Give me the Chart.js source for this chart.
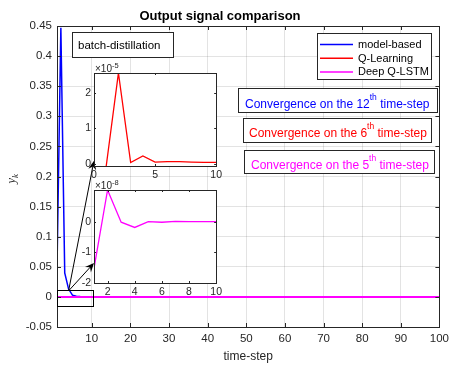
<!DOCTYPE html>
<html>
<head>
<meta charset="utf-8">
<script src="https://cdn.jsdelivr.net/npm/chart.js@4.4.0/dist/chart.umd.min.js"></script>
<style>
  html, body { margin: 0; padding: 0; background: #fff; }
  #wrap { position: relative; width: 454px; height: 365px; }
  canvas { position: absolute; }
  #main { left: 0; top: 0; }
  #inset1 { left: 70px; top: 58px; }
  #inset2 { left: 70px; top: 176px; }
</style>
</head>
<body>
<div id="wrap">
  <canvas id="main" width="454" height="365"></canvas>
  <canvas id="inset1" width="155" height="127"></canvas>
  <canvas id="inset2" width="155" height="125"></canvas>
</div>
<script>
// Données
const steps = [1, 2, 3, 4, 5, 6, 7, 8, 9, 10, 11, 12, 100];
const modelBased = [0.045, 0.447, 0.04, 0.013, 0.003, 0.001, 0.0005, 0.0002, 0.0001, 0.00005, 0.00002, 0, 0];
const qLearning = [-0.05, 2.55, 0.045, 0.23, 0.06, 0.07, 0.07, 0.06, 0.05, 0.05, 0.05, 0.05, 0.05]; // x 1e-5
const deepQLstm = [-1.52, 1.03, -0.02, -0.19, 0, -0.02, 0.01, 0, 0, 0, 0, 0, 0];               // x 1e-8

const seriesNames = ['model-based', 'Q-Learning', 'Deep Q-LSTM'];
const seriesColors = ['#0000ff', '#ff0000', '#ff00ff'];

const xTicks = [10, 20, 30, 40, 50, 60, 70, 80, 90, 100];
const yTicks = [-0.05, 0, 0.05, 0.1, 0.15, 0.2, 0.25, 0.3, 0.35, 0.4, 0.45];
const yTickLabels = ['-0.05', '0', '0.05', '0.1', '0.15', '0.2', '0.25', '0.3', '0.35', '0.4', '0.45'];

const inset1XTicks = [0, 5, 10];
const inset1YTicks = [0, 1, 2];
const inset2XTicks = [2, 4, 6, 8, 10];
const inset2YTicks = [-2, -1, 0];

const notes = [
    { num: '12', color: '#0000ff', box: [238, 88, 437, 112], tx: 245, ty: 108 },
    { num: '6', color: '#ff0000', box: [243, 118, 431, 142], tx: 249, ty: 137 },
    { num: '5', color: '#ff00ff', box: [244, 150, 434, 173], tx: 251, ty: 169 }
];

const FONT = '"Liberation Sans", Arial, sans-serif';
const AXIS = '#262626';

function pts(xs, ys, k) {
    return xs.map((x, i) => ({ x: x, y: ys[i] * k }));
}

function fixTicks(list) {
    return scale => { scale.ticks = list.map(v => ({ value: v })); };
}

// boite + graduations vers l'intérieur (style MATLAB)
const boxTicks = {
    id: 'boxTicks',
    beforeDraw(chart, args, opts) {
        if (!opts.white) return;
        const a = chart.chartArea;
        chart.ctx.save();
        chart.ctx.fillStyle = '#fff';
        chart.ctx.fillRect(a.left, a.top, a.right - a.left, a.bottom - a.top);
        chart.ctx.restore();
    },
    afterDatasetsDraw(chart, args, opts) {
        const { ctx, chartArea: a, scales: { x, y } } = chart;
        const len = opts.len || 4;
        ctx.save();
        ctx.strokeStyle = AXIS;
        ctx.lineWidth = 1;
        ctx.beginPath();
        x.ticks.forEach(t => {
            const px = Math.round(x.getPixelForValue(t.value)) + 0.5;
            ctx.moveTo(px, a.bottom); ctx.lineTo(px, a.bottom - len);
            ctx.moveTo(px, a.top); ctx.lineTo(px, a.top + len);
        });
        y.ticks.forEach(t => {
            const py = Math.round(y.getPixelForValue(t.value)) + 0.5;
            ctx.moveTo(a.left, py); ctx.lineTo(a.left + len, py);
            ctx.moveTo(a.right, py); ctx.lineTo(a.right - len, py);
        });
        ctx.stroke();
        ctx.strokeRect(Math.round(a.left) + 0.5, Math.round(a.top) + 0.5,
            Math.round(a.right - a.left), Math.round(a.bottom - a.top));
        if (opts.exp) {
            ctx.fillStyle = AXIS;
            ctx.textBaseline = 'alphabetic';
            ctx.font = '10px ' + FONT;
            ctx.fillText('\u00d710', a.left + 1, a.top - 1);
            const w = ctx.measureText('\u00d710').width;
            ctx.font = '7.5px ' + FONT;
            ctx.fillText(opts.exp, a.left + 1 + w, a.top - 5.5);
        }
        ctx.restore();
    }
};

function insetChart(id, xs, ys, color, xMin, xMax, yMin, yMax, xT, yT, exp, padRight, xH, padTop) {
    return new Chart(document.getElementById(id), {
        type: 'line',
        data: {
            datasets: [{
                data: pts(xs, ys, 1),
                borderColor: color,
                borderWidth: 1.3,
                pointRadius: 0,
                tension: 0
            }]
        },
        options: {
            responsive: false,
            animation: false,
            events: [],
            layout: { padding: { left: 0, right: padRight, top: padTop, bottom: 0 } },
            plugins: {
                legend: { display: false },
                tooltip: { enabled: false },
                boxTicks: { len: 2, white: true, exp: exp }
            },
            scales: {
                x: {
                    type: 'linear', min: xMin, max: xMax,
                    afterBuildTicks: fixTicks(xT),
                    afterFit: s => { s.height = xH; },
                    grid: { display: false, drawTicks: false },
                    border: { display: false },
                    ticks: { color: AXIS, font: { family: FONT, size: 10.5 }, padding: 3, maxRotation: 0 }
                },
                y: {
                    min: yMin, max: yMax,
                    afterBuildTicks: fixTicks(yT),
                    afterFit: s => { s.width = 24; },
                    grid: { display: false, drawTicks: false },
                    border: { display: false },
                    ticks: { color: AXIS, font: { family: FONT, size: 10.5 }, padding: 3 }
                }
            }
        },
        plugins: [boxTicks]
    });
}

const inset1 = insetChart('inset1', steps.slice(0, 10), qLearning.slice(0, 10), seriesColors[1],
    0, 10, -0.05, 2.55, inset1XTicks, inset1YTicks, '-5', 8, 19, 15);
const inset2 = insetChart('inset2', steps.slice(0, 10), deepQLstm.slice(0, 10), seriesColors[2],
    1, 10, -2, 1.03, inset2XTicks, inset2YTicks, '-8', 7, 18, 14);

function arrow(ctx, x0, y0, x1, y1) {
    const ang = Math.atan2(y1 - y0, x1 - x0);
    const c = Math.cos(ang), s = Math.sin(ang);
    const hl = 9, hw = 4;
    ctx.beginPath();
    ctx.moveTo(x0, y0);
    ctx.lineTo(x1 - hl * 0.6 * c, y1 - hl * 0.6 * s);
    ctx.stroke();
    const bx = x1 - hl * c, by = y1 - hl * s;
    ctx.beginPath();
    ctx.moveTo(x1, y1);
    ctx.lineTo(bx + hw * s, by - hw * c);
    ctx.lineTo(x1 - hl * 0.65 * c, y1 - hl * 0.65 * s);
    ctx.lineTo(bx - hw * s, by + hw * c);
    ctx.closePath();
    ctx.fill();
}

// annotations: zoom, flèches, légende, encadrés
const extras = {
    id: 'extras',
    afterDraw(chart) {
        const { ctx, scales: { x, y } } = chart;
        ctx.save();

        // rectangle de zoom
        ctx.strokeStyle = '#000';
        ctx.lineWidth = 1;
        const rx0 = x.getPixelForValue(1), rx1 = x.getPixelForValue(10.2);
        const ry0 = y.getPixelForValue(0.011), ry1 = y.getPixelForValue(-0.015);
        ctx.strokeRect(Math.round(rx0) + 0.5, Math.round(ry0) + 0.5, Math.round(rx1 - rx0), Math.round(ry1 - ry0));

        // flèches vers les encadrés
        ctx.fillStyle = '#000';
        const sx = x.getPixelForValue(4), sy = y.getPixelForValue(0.01);
        const c1 = inset1.canvas, c2 = inset2.canvas;
        arrow(ctx, sx, sy, c1.offsetLeft + inset1.scales.x.getPixelForValue(0),
            c1.offsetTop + inset1.scales.y.getPixelForValue(0.1));
        arrow(ctx, sx, sy, c2.offsetLeft + inset2.scales.x.getPixelForValue(1),
            c2.offsetTop + inset2.scales.y.getPixelForValue(-1.35));

        // batch-distillation
        ctx.fillStyle = '#fff';
        ctx.fillRect(72, 32, 101, 25);
        ctx.strokeStyle = AXIS;
        ctx.strokeRect(72.5, 32.5, 101, 25);
        ctx.fillStyle = '#000';
        ctx.font = '11.5px ' + FONT;
        ctx.textBaseline = 'alphabetic';
        ctx.fillText('batch-distillation', 78, 48.5);

        // légende
        ctx.fillStyle = '#fff';
        ctx.fillRect(317, 33, 114, 46);
        ctx.strokeRect(317.5, 33.5, 114, 46);
        ctx.font = '11px ' + FONT;
        ctx.textBaseline = 'middle';
        seriesNames.forEach((name, i) => {
            const ly = 44.5 + i * 13.7;
            ctx.strokeStyle = seriesColors[i];
            ctx.lineWidth = 1.5;
            ctx.beginPath();
            ctx.moveTo(320, ly); ctx.lineTo(353, ly);
            ctx.stroke();
            ctx.fillStyle = '#000';
            ctx.fillText(name, 358, ly + 0.5);
        });

        // encadrés de convergence
        ctx.textBaseline = 'alphabetic';
        notes.forEach(n => {
            const [bx0, by0, bx1, by1] = n.box;
            ctx.fillStyle = '#fff';
            ctx.fillRect(bx0, by0, bx1 - bx0, by1 - by0);
            ctx.strokeStyle = AXIS;
            ctx.lineWidth = 1;
            ctx.strokeRect(bx0 + 0.5, by0 + 0.5, bx1 - bx0, by1 - by0);
            ctx.fillStyle = n.color;
            ctx.font = '12px ' + FONT;
            let tx = n.tx;
            const head = 'Convergence on the ' + n.num;
            ctx.fillText(head, tx, n.ty);
            tx += ctx.measureText(head).width;
            ctx.font = '8.5px ' + FONT;
            ctx.fillText('th', tx, n.ty - 8);
            tx += ctx.measureText('th').width;
            ctx.font = '12px ' + FONT;
            ctx.fillText(' time-step', tx, n.ty);
        });

        // étiquette y_k
        ctx.translate(15, 178);
        ctx.rotate(-Math.PI / 2);
        ctx.fillStyle = AXIS;
        ctx.font = 'italic 12.5px "Liberation Serif", "DejaVu Serif", serif';
        ctx.fillText('y', -5.5, 0);
        const wy = ctx.measureText('y').width;
        ctx.font = 'italic 9px "Liberation Serif", "DejaVu Serif", serif';
        ctx.fillText('k', -5.5 + wy, 3);

        ctx.restore();
    }
};

const ctxMain = document.getElementById('main');
new Chart(ctxMain, {
    type: 'line',
    data: {
        datasets: [
            { label: seriesNames[0], data: pts(steps, modelBased, 1), borderColor: seriesColors[0], borderWidth: 1.5, order: 2 },
            { label: seriesNames[1], data: pts(steps, qLearning, 1e-5), borderColor: seriesColors[1], borderWidth: 1.5, order: 1 },
            { label: seriesNames[2], data: pts(steps, deepQLstm, 1e-8), borderColor: seriesColors[2], borderWidth: 2, order: 0 }
        ]
    },
    options: {
        responsive: false,
        animation: false,
        events: [],
        elements: { point: { radius: 0 }, line: { tension: 0 } },
        layout: { padding: { left: 0, right: 14, top: 0, bottom: 0 } },
        plugins: {
            legend: { display: false },
            tooltip: { enabled: false },
            title: {
                display: true,
                text: 'Output signal comparison',
                color: '#000',
                font: { family: FONT, size: 13, weight: 'bold' },
                padding: { top: 8.2, bottom: 2.2 }
            },
            boxTicks: { len: 4 }
        },
        scales: {
            x: {
                type: 'linear', min: 1, max: 100,
                afterBuildTicks: fixTicks(xTicks),
                afterFit: s => { s.height = 38; },
                grid: { color: 'rgba(38,38,38,0.13)', drawTicks: false },
                border: { display: false },
                ticks: { color: AXIS, font: { family: FONT, size: 11.5 }, padding: 5, maxRotation: 0 },
                title: { display: true, text: 'time-step', color: AXIS, font: { family: FONT, size: 12 }, padding: { top: 0, bottom: 1 } }
            },
            y: {
                min: -0.05, max: 0.45,
                afterBuildTicks: fixTicks(yTicks),
                afterFit: s => { s.width = 57; },
                grid: { color: 'rgba(38,38,38,0.13)', drawTicks: false },
                border: { display: false },
                ticks: {
                    color: AXIS, font: { family: FONT, size: 11.5 }, padding: 5,
                    callback: (v, i) => yTickLabels[i]
                }
            }
        }
    },
    plugins: [boxTicks, extras]
});
</script>
</body>
</html>
